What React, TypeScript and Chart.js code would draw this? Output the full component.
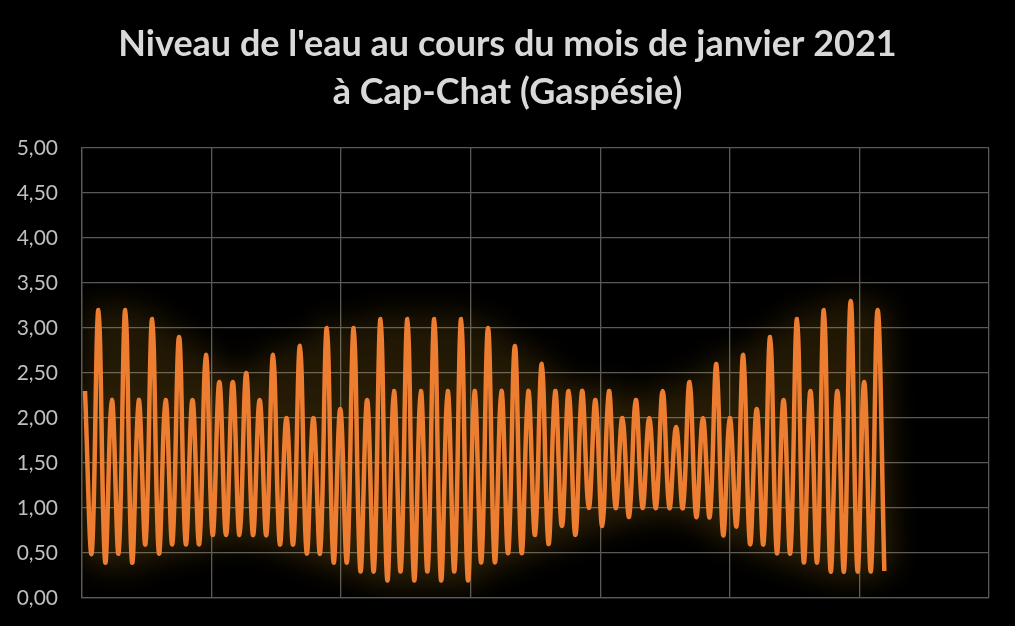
import React, { useEffect, useRef } from "react";
import { Chart, registerables } from "chart.js";

Chart.register(...registerables);

// ---- Data ----
const titleLines = ["Niveau de l'eau au cours du mois de janvier 2021", "à Cap-Chat (Gaspésie)"];

// Water level (m) at each successive high / low tide, January 2021
const waterLevels = [
  2.3, 0.5, 3.2, 0.4, 2.2, 0.5, 3.2, 0.4, 2.2, 0.6,
  3.1, 0.5, 2.2, 0.6, 2.9, 0.6, 2.2, 0.6, 2.7, 0.7,
  2.4, 0.7, 2.4, 0.7, 2.5, 0.7, 2.2, 0.7, 2.7, 0.6,
  2.0, 0.6, 2.8, 0.5, 2.0, 0.5, 3.0, 0.4, 2.1, 0.4,
  3.0, 0.3, 2.2, 0.3, 3.1, 0.2, 2.3, 0.3, 3.1, 0.2,
  2.3, 0.3, 3.1, 0.2, 2.3, 0.3, 3.1, 0.2, 2.3, 0.4,
  3.0, 0.4, 2.3, 0.5, 2.8, 0.5, 2.3, 0.7, 2.6, 0.6,
  2.3, 0.8, 2.3, 0.7, 2.3, 1.0, 2.2, 0.8, 2.3, 1.0,
  2.0, 0.9, 2.2, 1.0, 2.0, 1.0, 2.3, 1.0, 1.9, 1.0,
  2.4, 0.9, 2.0, 0.9, 2.6, 0.7, 2.0, 0.8, 2.7, 0.6,
  2.1, 0.6, 2.9, 0.5, 2.2, 0.5, 3.1, 0.4, 2.3, 0.4,
  3.2, 0.3, 2.3, 0.3, 3.3, 0.3, 2.4, 0.3, 3.2, 0.3,
];

// Time of the first extreme (days after Jan 1, 00:00) and mean interval between extremes (days)
const firstExtremeDay = 0.116;
const extremeIntervalDays = 0.2592;

// Axes
const yMin = 0;
const yMax = 5;
const yStep = 0.5;
const xMaxDays = 35;
const xStepDays = 5;

const GLOW_SHIFT = 4000;

const App: React.FC = () => {
  const canvasRef = useRef<HTMLCanvasElement | null>(null);

  useEffect(() => {
    document.body.style.margin = "0";
    document.body.style.background = "#000000";
    const canvas = canvasRef.current;
    if (!canvas) return;

    const points = waterLevels.map((v, i) => ({
      x: firstExtremeDay + i * extremeIntervalDays,
      y: v,
    }));

    // Soft glow: the glow dataset is stroked off-screen and only its blurred shadow lands in the plot.
    const glowPlugin = {
      id: "glowPlugin",
      beforeDatasetDraw(chart: any, args: any) {
        if (args.index === 1) {
          const ctx = chart.ctx;
          const a = chart.chartArea;
          ctx.save();
          ctx.beginPath();
          ctx.rect(a.left, a.top, a.right - a.left, a.bottom - a.top);
          ctx.clip();
          ctx.translate(-GLOW_SHIFT, 0);
          ctx.shadowOffsetX = GLOW_SHIFT;
          ctx.shadowOffsetY = 0;
          ctx.shadowColor = "rgba(255,186,36,0.17)";
          ctx.shadowBlur = 28;
        }
      },
      afterDatasetDraw(chart: any, args: any) {
        if (args.index === 1) {
          chart.ctx.restore();
        }
      },
    };

    const bgPlugin = {
      id: "bgPlugin",
      beforeDraw(chart: any) {
        const ctx = chart.ctx;
        ctx.save();
        ctx.fillStyle = "#000000";
        ctx.fillRect(0, 0, chart.width, chart.height);
        ctx.restore();
      },
    };

    const gridColor = "#595959";

    const chart = new Chart(canvas, {
      type: "line",
      data: {
        datasets: [
          {
            label: "Niveau",
            data: points,
            borderColor: "#ED7D31",
            borderWidth: 4.5,
            pointRadius: 0,
            tension: 0.4,
            fill: false,
            order: 0,
          },
          {
            label: "glow",
            data: points,
            borderColor: "#000000",
            borderWidth: 18,
            pointRadius: 0,
            tension: 0.4,
            fill: false,
            order: 1,
            clip: false,
          },
        ],
      },
      options: {
        animation: false,
        responsive: true,
        maintainAspectRatio: false,
        events: [],
        layout: { padding: { left: 0, right: 0, top: 0, bottom: 28 } },
        plugins: {
          legend: { display: false },
          tooltip: { enabled: false },
          title: {
            display: true,
            text: titleLines,
            color: "#D9D9D9",
            font: { family: "Lato", size: 36, weight: "bold", lineHeight: 1.347 },
            padding: { top: 20, bottom: 31 },
          },
        },
        scales: {
          x: {
            type: "linear",
            min: 0,
            max: xMaxDays,
            ticks: { display: false, stepSize: xStepDays },
            grid: { color: gridColor, lineWidth: 1.3, drawTicks: false },
            border: { color: gridColor, width: 1.3 },
            afterFit: (s: any) => {
              s.height = 0;
            },
          },
          y: {
            type: "linear",
            position: "left",
            min: yMin,
            max: yMax,
            ticks: {
              stepSize: yStep,
              color: "#BFBFBF",
              padding: 0,
              font: { family: "Lato", size: 21 },
              callback: (v: any) => Number(v).toFixed(2).replace(".", ","),
            },
            grid: {
              color: gridColor,
              lineWidth: 1.3,
              drawTicks: true,
              tickLength: 24,
              tickColor: "rgba(0,0,0,0)",
            },
            border: { color: gridColor, width: 1.3 },
            afterFit: (s: any) => {
              s.width = 82;
            },
          },
          yRight: {
            type: "linear",
            position: "right",
            min: yMin,
            max: yMax,
            ticks: { display: false },
            grid: { display: false, drawTicks: false },
            border: { display: false },
            afterFit: (s: any) => {
              s.width = 26;
            },
          },
        },
      },
      plugins: [bgPlugin, glowPlugin],
    });

    return () => {
      chart.destroy();
    };
  }, []);

  return (
    <div style={{ width: 1015, height: 626, background: "#000000", position: "relative" }}>
      <canvas ref={canvasRef} />
    </div>
  );
};

export default App;
